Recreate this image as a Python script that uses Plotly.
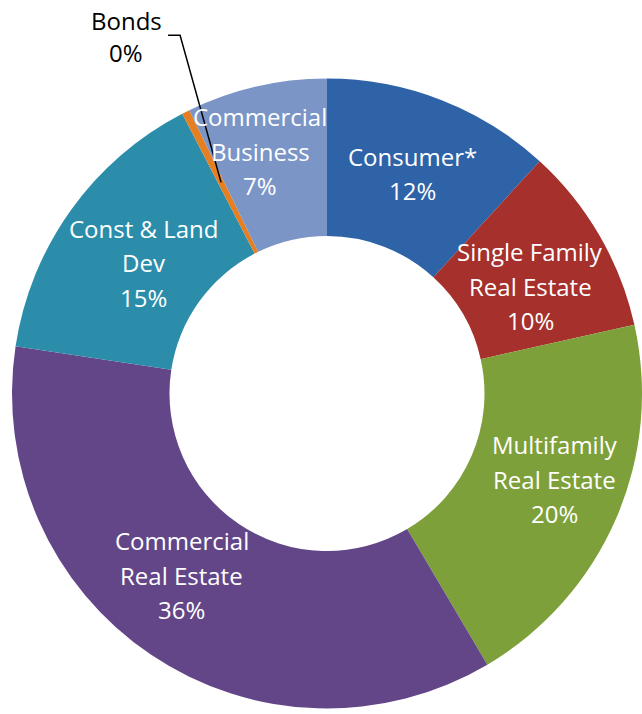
import math
import plotly.graph_objects as go

categories = ["Consumer*", "Single Family Real Estate", "Multifamily Real Estate",
              "Commercial Real Estate", "Const & Land Dev", "Bonds", "Commercial Business"]
label_lines = [["Consumer*"], ["Single Family", "Real Estate"], ["Multifamily", "Real Estate"],
               ["Commercial", "Real Estate"], ["Const & Land", "Dev"], ["Bonds"],
               ["Commercial", "Business"]]
values = [11.8, 9.7, 20.0, 35.9, 15.0, 0.4, 7.2]
colors = ["#2f63a8", "#a5302c", "#7ea03a", "#634687", "#2b8daa", "#e67e22", "#7b95c6"]
# small label nudges (px) relative to the mid-ring position, as placed in the original
nudges = [(0, 0), (-1, 11), (11, -8), (-13, -14), (8, 7), (0, 0), (-14, -12)]

W, H = 642, 714
ML, MR, MT, MB = 12, 0, 77, 4
PW, PH = W - ML - MR, H - MT - MB
HOLE = 0.5
LINE = 34.5
FS = 24

fig = go.Figure(go.Pie(
    labels=categories, values=values, sort=False, direction="clockwise", rotation=0,
    hole=HOLE, textinfo="none", hoverinfo="label+percent",
    marker=dict(colors=colors, line=dict(width=0)),
    showlegend=False,
))

R = min(PW, PH) / 2
cx, cy = PW / 2, PH / 2
total = sum(values)
cum = 0.0
annotations = []
shapes = []


def add_text(px, py, lines, color, line_h=LINE):
    n = len(lines)
    for i, t in enumerate(lines):
        off = (i - (n - 1) / 2) * line_h
        annotations.append(dict(
            x=px / PW, y=1 - (py + off) / PH, xref="paper", yref="paper",
            text=t, showarrow=False,
            font=dict(family="Open Sans", size=FS, color=color),
            xanchor="center", yanchor="middle"))


for cat, lines, v, (ndx, ndy) in zip(categories, label_lines, values, nudges):
    mid = (cum + v / 2) / total
    cum += v
    ang = 2 * math.pi * mid
    rr = R * (1 + HOLE) / 2
    px = cx + rr * math.sin(ang)
    py = cy - rr * math.cos(ang)
    pct = f"{round(v / total * 100)}%"
    if cat == "Bonds":
        tx, ty = px - 95, py - 146
        add_text(tx, ty, lines + [pct], "black", line_h=32)
        ex, ey = tx + 54, ty - 1
        pts = [(ex - 12, ey), (ex, ey), (px, py)]
        path = "M" + "L".join(f"{a / PW:.5f},{1 - b / PH:.5f}" for a, b in pts)
        shapes.append(dict(type="path", xref="paper", yref="paper",
                           path=path, line=dict(color="black", width=1.5)))
    else:
        add_text(px + ndx, py + ndy, lines + [pct], "white")

fig.update_layout(
    width=W, height=H, margin=dict(l=ML, r=MR, t=MT, b=MB),
    paper_bgcolor="white", plot_bgcolor="white",
    annotations=annotations, shapes=shapes,
    font=dict(family="Open Sans"),
)
fig.write_html("out.html", config={"displayModeBar": False},
               post_script="document.body.style.margin='0';")
